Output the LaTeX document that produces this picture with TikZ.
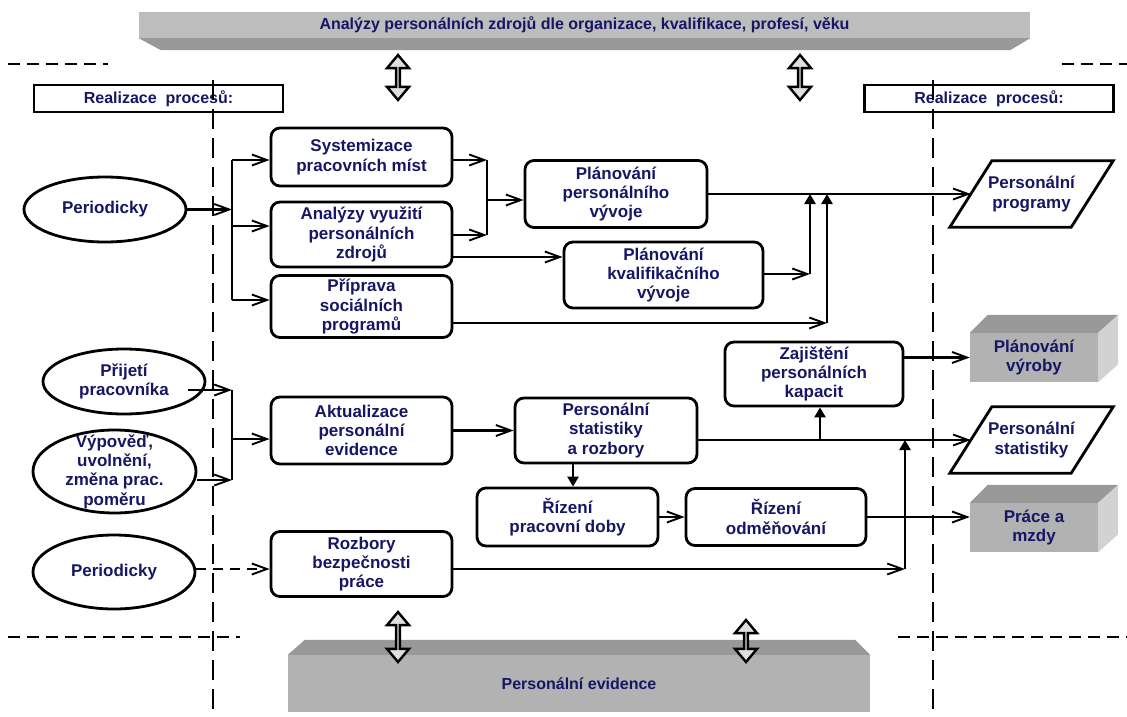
\documentclass[tikz,border=0pt]{standalone}
\usepackage{fontspec}
\usetikzlibrary{arrows.meta,shapes.geometric,shapes.arrows}
\newfontfamily\arialf{Liberation Sans}
\newcommand{\boxfont}{\arialf\bfseries\fontsize{17}{19.3}\selectfont}
\newcommand{\barfont}{\arialf\bfseries\fontsize{16}{19}\selectfont}
\definecolor{txtnavy}{RGB}{22,22,100}
\tikzset{
  proc/.style={
    draw,
    line width=2.8pt,
    rounded corners=9pt,
    minimum width=181pt,
    minimum height=62pt,
    align=center,
    font=\boxfont,
    text=txtnavy,
    inner sep=2pt
  },
  oval/.style={
    ellipse,
    draw,
    line width=2.8pt,
    minimum width=162pt,
    minimum height=65pt,
    align=center,
    font=\boxfont,
    text=txtnavy,
    inner sep=1pt
  },
  outbox/.style={
    minimum width=121pt,
    minimum height=66pt,
    align=center,
    font=\boxfont,
    text=txtnavy,
    inner sep=0pt
  },
  slab/.style={
    fill=gray!60,
    minimum width=128pt,
    minimum height=49pt,
    align=center,
    font=\boxfont,
    text=txtnavy,
    inner sep=0pt
  },
  realbox/.style={
    draw,
    line width=2.8pt,
    minimum width=249pt,
    minimum height=27pt,
    font=\barfont,
    text=txtnavy,
    inner sep=0pt
  },
  dblarrow/.style={
    double arrow,
    draw,
    fill=gray!25,
    line width=2.4pt,
    rotate=90,
    minimum width=22pt,
    double arrow head extend=6pt,
    double arrow tip angle=80,
    inner sep=0pt
  },
  conn/.style={line width=2.8pt},
  arr/.style={conn, -{Straight Barb[length=15pt,width=11pt,line width=1.9pt]}},
  arrup/.style={conn, -{Triangle[length=10pt,width=11pt]}},
  divider/.style={line width=2.8pt, dash pattern=on 20pt off 9pt},
  hdivider/.style={line width=2.8pt, dash pattern=on 12pt off 7pt}
}
\begin{document}
\begin{tikzpicture}[x=1pt,y=-1pt]
\useasboundingbox (0,0) rectangle (1127,717);

% databases
\node[fill=gray!52, minimum width=891pt, minimum height=26pt, font=\barfont, text=txtnavy, inner sep=0pt] (topbar) at (584.5,25) {Analýzy personálních zdrojů dle organizace, kvalifikace, profesí, věku};
\fill[gray!80] (topbar.south west) -- (topbar.south east) -- ([shift={(-20pt,-12pt)}]topbar.south east) -- ([shift={(22pt,-12pt)}]topbar.south west) -- cycle;
\node[fill=gray!60, minimum width=582pt, minimum height=57pt, font=\barfont, text=txtnavy, inner sep=0pt] (evid) at (579,683.5) {Personální evidence};
\fill[gray!80] (evid.north west) -- ([shift={(17pt,15pt)}]evid.north west) -- ([shift={(-15pt,15pt)}]evid.north east) -- (evid.north east) -- cycle;

\node[dblarrow, minimum height=45pt] (upL) at (398,77.5) {};
\node[dblarrow, minimum height=45pt] (upR) at (800,77.5) {};
\node[dblarrow, minimum height=50pt] (downL) at (398,637) {};
\node[dblarrow, minimum height=42pt] (downR) at (746,641) {};

\node[realbox] (realL) at (158.5,98.5) {Realizace\ \ procesů:};
\node[realbox] (realR) at (989,98.5) {Realizace\ \ procesů:};

% processes
\node[proc, minimum height=58pt] (syst) at (361.5,157) {Systemizace\\ pracovních míst};
\node[proc, minimum height=65pt] (analyzy) at (361.5,234.5) {Analýzy využití\\ personálních\\ zdrojů};
\node[proc] (priprava) at (361.5,306.5) {Příprava\\ sociálních\\ programů};
\node[proc, minimum width=182pt, minimum height=67pt] (planpers) at (616,194) {Plánování\\ personálního\\ vývoje};
\node[proc, minimum width=199pt, minimum height=66pt] (plankval) at (663.5,275) {Plánování\\ kvalifikačního\\ vývoje};
\node[proc, minimum width=178pt, minimum height=64pt] (zajist) at (814,374) {Zajištění\\ personálních\\ kapacit};
\node[proc, minimum height=67pt] (aktual) at (361.5,430.5) {Aktualizace\\ personální\\ evidence};
\node[proc, minimum width=182pt, minimum height=65pt] (stat) at (606,430.5) {Personální\\ statistiky\\ a rozbory};
\node[proc, minimum height=58pt] (rizdoby) at (567.5,517) {Řízení\\ pracovní doby};
\node[proc, minimum width=180pt, minimum height=57pt] (rizodm) at (776,517) {Řízení\\ odměňování};
\node[proc, minimum height=65pt] (rozbory) at (361.5,564) {Rozbory\\ bezpečnosti\\ práce};

% events
\node[oval] (per1) at (105,209.5) {Periodicky};
\node[oval] (prijeti) at (124,381.5) {Přijetí\\ pracovníka};
\node[oval, minimum width=163pt, minimum height=83pt, inner ysep=-9pt] (vypoved) at (114.5,471.5) {Výpověď,\\ uvolnění,\\ změna prac.\\ poměru};
\node[oval, minimum height=74pt] (per2) at (114,572) {Periodicky};

% outputs
\node[outbox] (prog) at (1031.5,194) {Personální\\ programy};
\node[outbox] (statout) at (1031.5,440) {Personální\\ statistiky};
\foreach \n in {prog,statout}
  \draw[conn, line join=miter] ([xshift=-21pt]\n.south west) -- ([xshift=-21pt]\n.south east) -- ([xshift=21pt]\n.north east) -- ([xshift=21pt]\n.north west) -- cycle;
\node[slab] (vyroba) at (1034,357.5) {Plánování\\ výroby};
\node[slab] (mzdy) at (1034,527.5) {Práce a\\ mzdy};
\foreach \n in {vyroba,mzdy}{
  \fill[gray!80] (\n.north west) -- ([shift={(18pt,18pt)}]\n.north west) -- ([shift={(20pt,18pt)}]\n.north east) -- (\n.north east) -- cycle;
  \fill[gray!35] (\n.north east) -- ([shift={(20pt,18pt)}]\n.north east) -- ([shift={(20pt,18pt)}]\n.south east) -- (\n.south east) -- cycle;
}

% planning branch
\coordinate (s1) at (232,160);
\coordinate (s2) at (232,226);
\coordinate (s3) at (232,300);
\draw[conn] (s1) -- (s3);
\draw[arr] (per1.east) -- (per1.east -| s1);
\foreach \s/\n in {s1/syst,s2/analyzy,s3/priprava}
  \draw[arr] (\s) -- (\s -| \n.west);
\coordinate (m1) at (487,160);
\coordinate (m2) at (487,235);
\coordinate (m3) at (487,200);
\draw[arr] (m1 -| syst.east) -- (m1);
\draw[arr] (m2 -| analyzy.east) -- (m2);
\draw[conn] (m1) -- (m2);
\draw[arr] (m3) -- (m3 -| planpers.west);
\coordinate (k1) at (500,257);
\draw[arr] (k1 -| analyzy.east) -- (k1 -| plankval.west);
\coordinate (v1) at (810,274);
\coordinate (v2) at (827,323);
\draw[arr] (v1 -| plankval.east) -- (v1);
\draw[arr] (v2 -| priprava.east) -- (v2);
\draw[arrup] (v1) -- (v1 |- planpers.east);
\draw[arrup] (v2) -- (v2 |- planpers.east);
\draw[arr] (planpers.east) -- (prog.west);

% evidence branch
\coordinate (e1) at (232,390);
\coordinate (e2) at (232,480);
\coordinate (e3) at (232,439);
\draw[arr] ([xshift=-18pt]e1 -| prijeti.east) -- (e1);
\draw[arr] (e2 -| vypoved.east) -- (e2);
\draw[conn] (e1) -- (e2);
\draw[arr] (e3) -- (e3 -| aktual.west);
\draw[arr] (aktual.east) -- (stat.west);
\coordinate (d1) at (573,470);
\draw[arrup] (d1 |- stat.south) -- (d1 |- rizdoby.north);
\draw[arr] (rizdoby.east) -- (rizodm.west);
\draw[arr] (rizodm.east) -- (rizodm.east -| mzdy.west);
\coordinate (h1) at (820,440);
\draw[arr] (h1 -| stat.east) -- (h1 -| statout.west);
\draw[arrup] (h1) -- (h1 |- zajist.south);
\draw[arr] (vyroba.west -| zajist.east) -- (vyroba.west);
\coordinate (r1) at (905,569);
\draw[arr, dash pattern=on 10pt off 7pt] (r1 -| per2.east) -- (r1 -| rozbory.west);
\draw[arr] (r1 -| rozbory.east) -- (r1);
\draw[arrup] (r1) -- (r1 |- h1);

% dividers
\draw[divider] (213,80) -- (213,717);
\draw[divider] (933,80) -- (933,717);
\draw[hdivider] (8,64) -- (108,64);
\draw[hdivider] (1062,64) -- (1127,64);
\draw[hdivider] (8,637) -- (240,637);
\draw[hdivider] (898,637) -- (1127,637);
\end{tikzpicture}
\end{document}
